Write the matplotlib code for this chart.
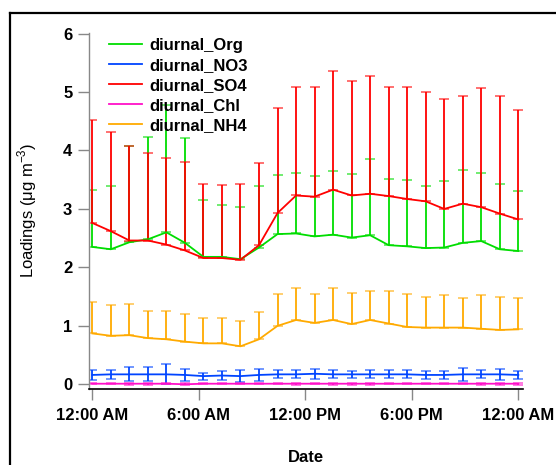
import numpy as np
import matplotlib
matplotlib.use("Agg")
import matplotlib.pyplot as plt
from matplotlib.lines import Line2D

plt.rcParams['font.family'] = ['Liberation Sans', 'DejaVu Sans']

# ---- data ----
hours = np.linspace(0, 24, 24)   # 24 diurnal bins spread over the day axis

org = [2.35, 2.31, 2.43, 2.48, 2.60, 2.42, 2.18, 2.18, 2.14, 2.34, 2.57, 2.58,
       2.53, 2.56, 2.51, 2.55, 2.38, 2.36, 2.33, 2.34, 2.42, 2.45, 2.31, 2.28]
org_err = [0.97, 1.08, 1.65, 1.75, 2.17, 1.79, 0.98, 0.89, 0.90, 1.06, 1.01, 1.04,
           1.04, 1.09, 1.09, 1.30, 1.14, 1.14, 1.06, 1.14, 1.25, 1.17, 1.11, 1.03]

no3 = [0.16, 0.17, 0.17, 0.17, 0.17, 0.16, 0.14, 0.15, 0.14, 0.16, 0.17, 0.17,
       0.18, 0.17, 0.17, 0.17, 0.17, 0.17, 0.16, 0.16, 0.17, 0.17, 0.17, 0.16]
no3_err = [0.08, 0.08, 0.12, 0.12, 0.17, 0.10, 0.06, 0.07, 0.10, 0.10, 0.07, 0.07,
           0.09, 0.07, 0.06, 0.07, 0.07, 0.07, 0.07, 0.07, 0.11, 0.07, 0.09, 0.07]

so4 = [2.76, 2.62, 2.46, 2.46, 2.39, 2.29, 2.16, 2.16, 2.13, 2.38, 2.93, 3.23,
       3.21, 3.33, 3.23, 3.26, 3.22, 3.17, 3.13, 3.00, 3.09, 3.03, 2.92, 2.82]
so4_err = [1.77, 1.69, 1.61, 1.50, 1.49, 1.51, 1.27, 1.25, 1.30, 1.41, 1.80, 1.85,
           1.87, 2.03, 1.96, 2.01, 1.86, 1.91, 1.87, 1.88, 1.84, 2.04, 2.01, 1.87]

chl = [0.01, 0.01, 0.01, 0.01, 0.01, 0.00, 0.01, 0.01, 0.01, 0.01, 0.01, 0.01,
       0.01, 0.01, 0.01, 0.01, 0.01, 0.01, 0.01, 0.01, 0.01, 0.01, 0.01, 0.01]
chl_err = [0.005, 0.005, 0.015, 0.015, 0.005, 0.02, 0.005, 0.005, 0.005, 0.005, 0.005, 0.015,
           0.005, 0.015, 0.015, 0.015, 0.005, 0.005, 0.005, 0.005, 0.005, 0.015, 0.015, 0.015]

nh4 = [0.87, 0.83, 0.84, 0.79, 0.77, 0.73, 0.70, 0.70, 0.65, 0.77, 1.00, 1.10,
       1.05, 1.10, 1.03, 1.10, 1.04, 0.98, 0.97, 0.97, 0.97, 0.95, 0.93, 0.94]
nh4_err = [0.53, 0.52, 0.53, 0.47, 0.48, 0.48, 0.43, 0.43, 0.44, 0.46, 0.55, 0.54,
           0.50, 0.54, 0.53, 0.49, 0.55, 0.57, 0.53, 0.56, 0.50, 0.57, 0.57, 0.54]

x_ticks = [0, 6, 12, 18, 24]
x_ticklabels = ["12:00 AM", "6:00 AM", "12:00 PM", "6:00 PM", "12:00 AM"]
y_ticks = [0, 1, 2, 3, 4, 5, 6]

series = [
    ("diurnal_Org", org, org_err, "#00dd00", False),
    ("diurnal_NO3", no3, no3_err, "#0044ff", True),
    ("diurnal_SO4", so4, so4_err, "#ff0000", False),
    ("diurnal_Chl", chl, chl_err, "#ff10c8", True),
    ("diurnal_NH4", nh4, nh4_err, "#ffaa00", False),
]

W, H = 556, 465
fig = plt.figure(figsize=(W / 100, H / 100), dpi=100)
ax_l, ax_r, ax_t, ax_b = 89, 523.3, 33, 388.5
ax = fig.add_axes([ax_l / W, 1 - ax_b / H, (ax_r - ax_l) / W, (ax_b - ax_t) / H])

handles = []
for name, vals, err, col, sym in series:
    vals = np.asarray(vals)
    err = np.asarray(err)
    if sym:
        yerr = err
    else:
        yerr = [np.zeros_like(err), err]
    cont = ax.errorbar(hours, vals, yerr=yerr, color=col, lw=1.3, elinewidth=1.3,
                       capsize=3.6, capthick=1.3, label=name)
    for c in cont[1]:
        c.set_alpha(0.6)
    handles.append(Line2D([], [], color=col, lw=1.3))

ax.set_xlim(-0.186, 24.28)
ax.set_ylim(-0.072, 6.01)
ax.set_xticks(x_ticks)
ax.set_xticklabels(x_ticklabels)
ax.set_yticks(y_ticks)

for s in ["top", "right"]:
    ax.spines[s].set_visible(False)
ax.spines["left"].set_color("#888888")
ax.spines["left"].set_linewidth(1.0)
ax.spines["bottom"].set_color("black")
ax.spines["bottom"].set_linewidth(1.2)

ax.tick_params(axis="both", direction="out", length=8, width=1.0, color="#888888",
               labelsize=12)
ax.tick_params(axis="y", pad=4)
ax.tick_params(axis="x", pad=6)
for lab in ax.get_xticklabels() + ax.get_yticklabels():
    lab.set_fontweight("bold")

ax.set_xlabel("Date", fontsize=12, fontweight="bold")
ax.xaxis.set_label_coords(0.5, (ax_b - 458) / (ax_b - ax_t))
ax.xaxis.label.set_va("center")
ax.set_ylabel(r"Loadings ($\mathregular{\mu}$g m$^{\mathregular{-3}}$)", fontsize=12)
ax.yaxis.set_label_coords((27.5 - ax_l) / (ax_r - ax_l), 0.5)
ax.yaxis.label.set_va("center")

leg = ax.legend(handles, [s[0] for s in series], loc="upper left",
                bbox_to_anchor=((109 - ax_l) / (ax_r - ax_l), (ax_b - 38) / (ax_b - ax_t)),
                frameon=False, prop={"weight": "bold", "size": 12},
                handlelength=2.0, handletextpad=0.45, labelspacing=0.3,
                borderaxespad=0, borderpad=0)

# outer frame (top and left edges visible)
fig.add_artist(Line2D([9.5 / W, 1.0], [1 - 13.5 / H, 1 - 13.5 / H], color="black", lw=1.6,
                      transform=fig.transFigure))
fig.add_artist(Line2D([9.5 / W, 9.5 / W], [1 - 13.5 / H, 0], color="black", lw=1.6,
                      transform=fig.transFigure))

fig.savefig("out.png", dpi=100)
